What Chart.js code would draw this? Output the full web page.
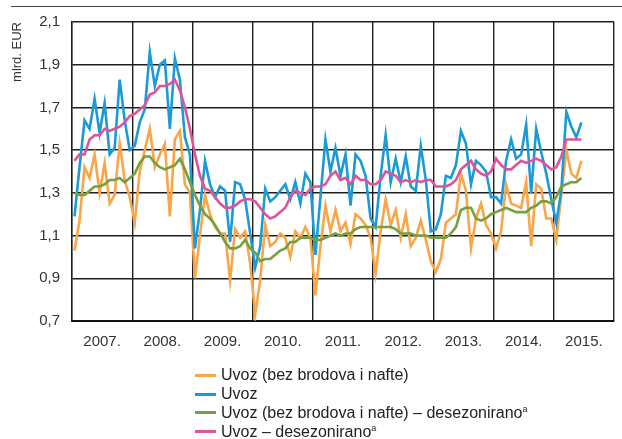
<!DOCTYPE html>
<html>
<head>
<meta charset="utf-8">
<script src="https://cdn.jsdelivr.net/npm/chart.js@4/dist/chart.umd.min.js"></script>
<style>
  html, body { margin: 0; padding: 0; background: #fff; overflow: hidden; }
  #wrap { position: relative; width: 622px; height: 439px; overflow: hidden; }
  #topline { position: absolute; left: 11px; right: 0; top: 6px; border-top: 1.5px solid #444; }
  #chart { position: absolute; left: 0; top: 0; }
  #legend { position: absolute; left: 195px; top: 366px; color: #222;
            font: 16px 'Liberation Sans Narrow', 'Liberation Sans', sans-serif; }
  .row { height: 18.8px; display: flex; align-items: center; white-space: nowrap; }
  .sw { width: 21px; height: 3px; margin-right: 5px; flex: none; }
  sup { font-size: 9px; line-height: 0; vertical-align: 6px; }
</style>
</head>
<body>
<div id="wrap">
  <div id="topline"></div>
  <canvas id="chart" width="626" height="439"></canvas>
  <div id="legend"></div>
</div>
<script>
// mjesečni podaci, siječanj 2007. - lipanj 2015.
const years = ['2007.', '2008.', '2009.', '2010.', '2011.', '2012.', '2013.', '2014.', '2015.'];
const yTicks = [0.7, 0.9, 1.1, 1.3, 1.5, 1.7, 1.9, 2.1];

const seriesNames = ['Uvoz (bez brodova i nafte)', 'Uvoz', 'Uvoz (bez brodova i nafte) – desezonirano', 'Uvoz – desezonirano'];
const seriesNote = [false, false, true, true];
const seriesColors = ['#f9a548', '#1a9ad6', '#76a03e', '#df5499'];

const uvozBezBrodova = [
  1.03, 1.17, 1.42, 1.37, 1.48, 1.30, 1.44, 1.25, 1.29, 1.53, 1.36, 1.28,
  1.16, 1.40, 1.50, 1.60, 1.42, 1.48, 1.53, 1.19, 1.55, 1.59, 1.34, 1.30,
  0.90, 1.10, 1.29, 1.20, 1.14, 1.11, 1.11, 0.89, 1.13, 1.09, 1.12, 0.97,
  0.73, 0.89, 1.15, 1.05, 1.07, 1.11, 1.09, 1.00, 1.12, 1.09, 1.14, 1.09,
  0.82, 1.05, 1.24, 1.12, 1.22, 1.12, 1.16, 1.06, 1.20, 1.18, 1.15, 1.09,
  0.92, 1.12, 1.27, 1.15, 1.22, 1.09, 1.20, 1.05, 1.09, 1.17, 1.08, 0.98,
  0.93, 0.99, 1.16, 1.18, 1.20, 1.39, 1.31, 1.04, 1.18, 1.25, 1.15, 1.11,
  1.04, 1.12, 1.34, 1.25, 1.24, 1.23, 1.35, 1.05, 1.34, 1.32, 1.18, 1.18,
  1.08, 1.29, 1.50, 1.39, 1.37, 1.45
];
const uvoz = [
  1.19, 1.42, 1.64, 1.60, 1.74, 1.58, 1.72, 1.48, 1.51, 1.83, 1.64, 1.50,
  1.52, 1.63, 1.69, 1.96, 1.80, 1.90, 1.92, 1.60, 1.93, 1.83, 1.56, 1.48,
  1.04, 1.22, 1.45, 1.34, 1.28, 1.33, 1.31, 1.07, 1.35, 1.34, 1.27, 1.11,
  0.95, 1.05, 1.32, 1.26, 1.28, 1.31, 1.34, 1.27, 1.35, 1.25, 1.39, 1.35,
  1.01, 1.28, 1.55, 1.40, 1.51, 1.38, 1.48, 1.24, 1.48, 1.45, 1.38, 1.18,
  1.14, 1.38, 1.57, 1.35, 1.46, 1.35, 1.47, 1.33, 1.31, 1.52, 1.36, 1.12,
  1.13, 1.20, 1.38, 1.37, 1.43, 1.59, 1.53, 1.34, 1.45, 1.43, 1.40, 1.28,
  1.28, 1.25, 1.45, 1.55, 1.46, 1.48, 1.62, 1.30, 1.60, 1.49, 1.39, 1.27,
  1.16, 1.31, 1.68, 1.61, 1.56, 1.63
];
const uvozBezBrodovaDesez = [
  1.30, 1.29, 1.29, 1.31, 1.33, 1.33, 1.34, 1.36, 1.36, 1.37, 1.35, 1.37,
  1.39, 1.44, 1.47, 1.47, 1.44, 1.42, 1.41, 1.42, 1.43, 1.46, 1.41, 1.35,
  1.29, 1.24, 1.20, 1.18, 1.15, 1.11, 1.07, 1.04, 1.04, 1.05, 1.08, 1.04,
  1.02, 0.98, 0.99, 0.99, 1.01, 1.03, 1.04, 1.07, 1.07, 1.09, 1.09, 1.09,
  1.08, 1.08, 1.09, 1.10, 1.11, 1.10, 1.11, 1.11, 1.13, 1.14, 1.14, 1.14,
  1.14, 1.14, 1.14, 1.14, 1.13, 1.11, 1.11, 1.11, 1.10, 1.10, 1.10, 1.09,
  1.09, 1.09, 1.09, 1.11, 1.14, 1.22, 1.23, 1.23, 1.18, 1.17, 1.18, 1.20,
  1.21, 1.22, 1.23, 1.22, 1.21, 1.21, 1.21, 1.23, 1.24, 1.26, 1.26, 1.25,
  1.28, 1.33, 1.34, 1.35, 1.35, 1.37
];
const uvozDesez = [
  1.45, 1.48, 1.48, 1.55, 1.57, 1.57, 1.60, 1.59, 1.60, 1.61, 1.63, 1.66,
  1.67, 1.69, 1.71, 1.76, 1.77, 1.80, 1.80, 1.81, 1.83, 1.78, 1.70, 1.60,
  1.48, 1.38, 1.32, 1.31, 1.28, 1.25, 1.23, 1.23, 1.24, 1.26, 1.27, 1.27,
  1.26, 1.23, 1.20, 1.18, 1.19, 1.21, 1.23, 1.28, 1.31, 1.30, 1.29, 1.32,
  1.33, 1.33, 1.34, 1.38, 1.40, 1.36, 1.37, 1.34, 1.38, 1.36, 1.36, 1.34,
  1.34, 1.36, 1.40, 1.39, 1.38, 1.35, 1.36, 1.35, 1.36, 1.35, 1.36, 1.36,
  1.33, 1.33, 1.33, 1.34, 1.36, 1.41, 1.43, 1.45, 1.41, 1.39, 1.38, 1.40,
  1.46, 1.43, 1.41, 1.41, 1.43, 1.45, 1.44, 1.45, 1.46, 1.45, 1.43, 1.41,
  1.42, 1.47, 1.55, 1.55, 1.55, 1.55
];

const FONT = "'Liberation Sans Narrow', 'Liberation Sans', sans-serif";
const allSeries = [uvozBezBrodova, uvoz, uvozBezBrodovaDesez, uvozDesez];

// granice godina (svaka 12 mj.) i sredine godina za oznake
const xTicks = [];
const xLabels = [];
for (let k = 0; k <= years.length * 2; k++) {
  xTicks.push(-0.5 + k * 6);
  xLabels.push(k % 2 === 1 ? years[(k - 1) / 2] : '');
}

const datasets = allSeries.map((arr, s) => ({
  label: seriesNames[s],
  data: arr.map((v, i) => ({ x: i, y: v })),
  borderColor: seriesColors[s],
  backgroundColor: seriesColors[s],
  borderWidth: 2.6,
  pointRadius: 0,
  tension: 0,
  order: 4 - s
}));

const chart = new Chart(document.getElementById('chart'), {
  type: 'line',
  data: { datasets },
  options: {
    responsive: false,
    animation: false,
    layout: { padding: { top: 22, bottom: 88, left: 0, right: 2 } },
    plugins: { legend: { display: false }, tooltip: { enabled: false } },
    scales: {
      x: {
        type: 'linear',
        min: -0.5,
        max: years.length * 12 - 0.5,
        afterBuildTicks: (scale) => { scale.ticks = xTicks.map(v => ({ value: v })); },
        afterFit: (scale) => { scale.height = 30; },
        ticks: {
          autoSkip: false,
          maxRotation: 0,
          padding: 12,
          color: '#333',
          font: { family: FONT, size: 15 },
          callback: (val, idx) => xLabels[idx]
        },
        grid: {
          drawTicks: false,
          lineWidth: 1.4,
          color: (ctx) => (ctx.index % 2 === 0 ? '#1e1e1e' : 'rgba(0,0,0,0)')
        },
        border: { color: '#111', width: 2 }
      },
      y: {
        min: 0.7,
        max: 2.1,
        afterBuildTicks: (scale) => { scale.ticks = yTicks.map(v => ({ value: v })); },
        afterFit: (scale) => { scale.width = 72; },
        ticks: {
          padding: 12,
          color: '#333',
          font: { family: FONT, size: 15 },
          callback: (v) => v.toFixed(1).replace('.', ',')
        },
        grid: { drawTicks: false, color: '#1e1e1e', lineWidth: 1.4 },
        border: { color: '#1e1e1e', width: 1.4 },
        title: {
          display: true,
          text: 'mlrd. EUR',
          align: 'end',
          color: '#333',
          font: { family: FONT, size: 13 },
          padding: { top: 10, bottom: 0 }
        }
      }
    }
  }
});

// legenda ispod grafikona
const legend = document.getElementById('legend');
chart.data.datasets.forEach((ds, s) => {
  const row = document.createElement('div');
  row.className = 'row';
  const sw = document.createElement('span');
  sw.className = 'sw';
  sw.style.background = ds.borderColor;
  const txt = document.createElement('span');
  txt.textContent = ds.label;
  if (seriesNote[s]) {
    const sup = document.createElement('sup');
    sup.textContent = 'a';
    txt.appendChild(sup);
  }
  row.appendChild(sw);
  row.appendChild(txt);
  legend.appendChild(row);
});
</script>
</body>
</html>
